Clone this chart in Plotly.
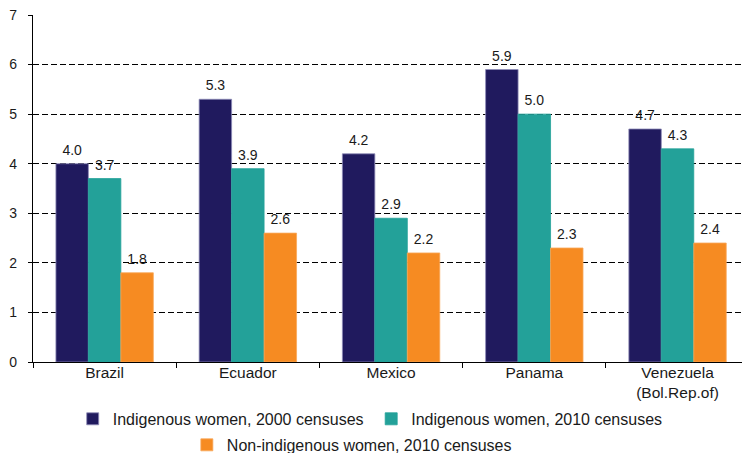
import plotly.graph_objects as go

countries = ["Brazil", "Ecuador", "Mexico", "Panama", "Venezuela<br>(Bol.Rep.of)"]
indig_2000 = [4.0, 5.3, 4.2, 5.9, 4.7]
indig_2010 = [3.7, 3.9, 2.9, 5.0, 4.3]
nonindig_2010 = [1.8, 2.6, 2.2, 2.3, 2.4]
y_ticks = [0, 1, 2, 3, 4, 5, 6, 7]

FONT = "Liberation Sans, Arial, sans-serif"
colors = ["#201A5E", "#23A199", "#F68B22"]
lines = ["#8E8BB8", "#23A199", "#F9A85A"]
names = ["Indigenous women, 2000 censuses", "Indigenous women, 2010 censuses",
         "Non-indigenous women, 2010 censuses"]
series = [indig_2000, indig_2010, nonindig_2010]
legends = ["legend", "legend2", "legend3"]

fig = go.Figure()
for vals, name, col, lc, lg in zip(series, names, colors, lines, legends):
    fig.add_trace(go.Bar(
        x=countries, y=vals, name=name, legend=lg, showlegend=True,
        marker=dict(color=col, line=dict(color=lc, width=0.8)),
    ))
for vals in series:
    fig.add_trace(go.Scatter(
        x=countries, y=vals, mode="markers+text", showlegend=False,
        text=[f"{v:.1f}" for v in vals], textposition="top center",
        textfont=dict(family=FONT, size=14, color="#1a1a1a"),
        marker=dict(size=7, color="rgba(0,0,0,0)"),
        hoverinfo="skip", cliponaxis=False,
    ))

leg_common = dict(orientation="h", yanchor="middle", xanchor="left",
                  font=dict(family=FONT, size=16, color="#1a1a1a"),
                  bgcolor="rgba(0,0,0,0)")
fig.update_layout(
    width=742, height=453,
    margin=dict(l=33, r=0, t=15, b=91, autoexpand=False),
    paper_bgcolor="white", plot_bgcolor="white",
    barmode="group", bargap=0.32, bargroupgap=0,
    scattermode="group", scattergap=0.32,
    font=dict(family=FONT, size=14, color="#1a1a1a"),
    showlegend=True,
    legend=dict(x=0.056, y=-0.164, **leg_common),
    legend2=dict(x=0.477, y=-0.164, **leg_common),
    legend3=dict(x=0.217, y=-0.239, **leg_common),
)
fig.update_xaxes(
    type="category", range=[-0.5, 4.45], automargin=False,
    showline=True, linecolor="black", linewidth=1.3,
    ticks="outside", tickson="boundaries", ticklen=5, tickcolor="black",
    ticklabelstandoff=-4,
    tickfont=dict(family=FONT, size=15.5, color="#1a1a1a"),
    showgrid=False,
)
fig.update_yaxes(
    range=[0, 7], tickvals=y_ticks, ticktext=[str(v) for v in y_ticks],
    automargin=False,
    showline=True, linecolor="black", linewidth=1.3,
    ticks="outside", ticklen=4, tickcolor="black", ticklabelstandoff=8,
    tickfont=dict(family=FONT, size=14, color="#1a1a1a"),
    showgrid=True, gridcolor="black", gridwidth=1, griddash="6px,3px",
    zeroline=False,
)
fig.write_html("out.html", config={"displayModeBar": False},
               post_script="document.body.style.margin='0';")
